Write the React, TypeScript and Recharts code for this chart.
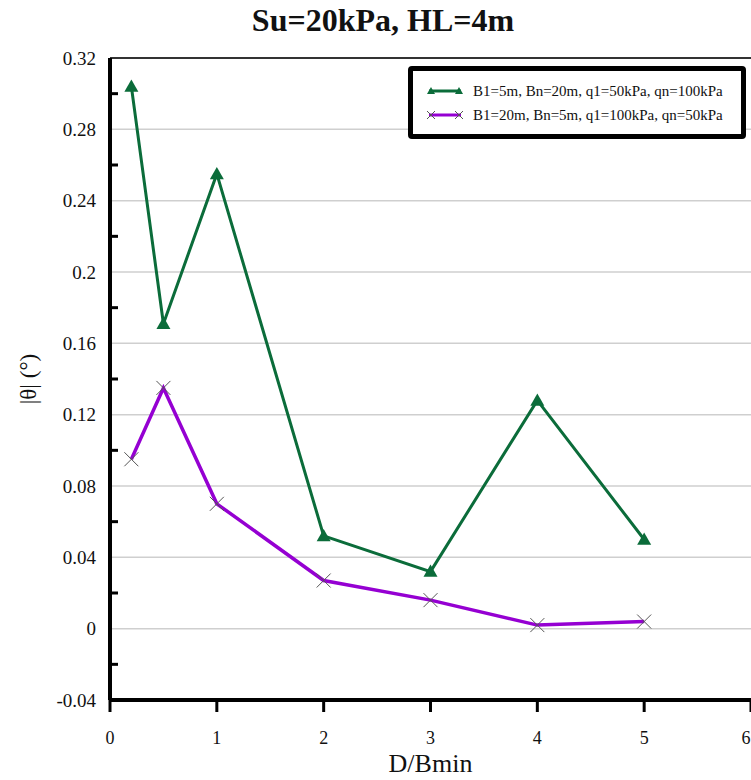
import { LineChart, Line, XAxis, YAxis, CartesianGrid, ReferenceLine, Legend } from "recharts"

const dRatio = [0.2, 0.5, 1, 2, 3, 4, 5]
const caseA = [0.304, 0.171, 0.255, 0.052, 0.032, 0.128, 0.05]
const caseB = [0.095, 0.135, 0.07, 0.027, 0.016, 0.002, 0.004]
const xTicks = [0, 1, 2, 3, 4, 5, 6]
const yTicks = [-0.04, -0.02, 0, 0.02, 0.04, 0.06, 0.08, 0.1, 0.12, 0.14, 0.16, 0.18, 0.2, 0.22, 0.24, 0.26, 0.28, 0.3, 0.32]
const gridValues = [0, 0.04, 0.08, 0.12, 0.16, 0.2, 0.24, 0.28]
const labelA = "B1=5m, Bn=20m, q1=50kPa, qn=100kPa"
const labelB = "B1=20m, Bn=5m, q1=100kPa, qn=50kPa"

const rows = dRatio.map((d, i) => ({ d, a: caseA[i], b: caseB[i] }))

const FONT = "'Liberation Serif', 'DejaVu Serif', serif"
const GREEN = "#0B6C3A"
const PURPLE = "#9500D2"

function Triangle({ cx, cy, s = 7 }: any) {
  if (cx == null || cy == null) return null
  return <path d={`M${cx},${cy - s} L${cx + s},${cy + s * 0.75} L${cx - s},${cy + s * 0.75} Z`} fill={GREEN} />
}

function Cross({ cx, cy, s = 7 }: any) {
  if (cx == null || cy == null) return null
  return (
    <g stroke="#555" strokeWidth={1}>
      <line x1={cx - s} y1={cy - s} x2={cx + s} y2={cy + s} />
      <line x1={cx - s} y1={cy + s} x2={cx + s} y2={cy - s} />
    </g>
  )
}

function YTick({ x, y, payload }: any) {
  const v = payload.value
  const major = Math.round(v * 50) % 2 === 0
  if (!major) {
    return <line x1={x + 14} y1={y} x2={x + 22} y2={y} stroke="#000" strokeWidth={3} />
  }
  return (
    <text x={x} y={y} dy="0.35em" textAnchor="end" fontSize={19} fontFamily={FONT} fill="#111">
      {String(v)}
    </text>
  )
}

function XTick({ x, y, payload }: any) {
  // last label sits on the window edge, nudge it in so it stays readable
  const shift = payload.value === 6 ? -5 : 0
  return (
    <text x={x + shift} y={y} dy="0.71em" textAnchor="middle" fontSize={18} fontFamily={FONT} fill="#111">
      {payload.value}
    </text>
  )
}

function LegendBox() {
  return (
    <div style={{
      border: "5px solid #000", borderRadius: 4, background: "#fff", padding: "8px 10px 7px 12px",
      fontFamily: FONT, fontSize: 15, color: "#111", boxSizing: "border-box", width: 338,
    }}>
      {[{ label: labelA, color: GREEN, kind: "tri" }, { label: labelB, color: PURPLE, kind: "x" }].map((e) => (
        <div key={e.label} style={{ display: "flex", alignItems: "center", height: 24 }}>
          <svg width={40} height={14} style={{ marginRight: 8 }}>
            <line x1={4} y1={7} x2={36} y2={7} stroke={e.color} strokeWidth={3} />
            {e.kind === "tri" ? (
              <>
                <Triangle cx={6} cy={7} s={4} />
                <Triangle cx={34} cy={7} s={4} />
              </>
            ) : (
              <>
                <Cross cx={6} cy={7} s={4} />
                <Cross cx={34} cy={7} s={4} />
              </>
            )}
          </svg>
          <span>{e.label}</span>
        </div>
      ))}
    </div>
  )
}

export default function App() {
  return (
    <div style={{ position: "relative", width: 751, height: 780, background: "#fff" }}>
      <style>{"body{margin:0;overflow:hidden}"}</style>
      <div style={{
        position: "absolute", top: 2, left: 0, width: 766, textAlign: "center",
        fontFamily: FONT, fontWeight: "bold", fontSize: 32, color: "#111",
      }}>
        Su=20kPa, HL=4m
      </div>
      <LineChart width={751} height={780} data={rows} margin={{ top: 58, right: 0, bottom: 20, left: 0 }}>
        <CartesianGrid vertical={false} horizontalValues={gridValues} stroke="#cfcfcf" strokeWidth={1.5} />
        <ReferenceLine y={0.32} stroke="#333" strokeWidth={2} />
        <XAxis
          dataKey="d" type="number" domain={[0, 6]} ticks={xTicks} interval={0} height={60}
          axisLine={{ stroke: "#000", strokeWidth: 4 }} tickLine={{ stroke: "#000", strokeWidth: 3 }}
          tickSize={12} tickMargin={19}
          tick={<XTick />}
          label={{
            content: ({ viewBox }: any) => (
              <text x={viewBox.x + viewBox.width / 2} y={viewBox.y + 72} textAnchor="middle"
                fontSize={26} fontFamily={FONT} fill="#111">D/Bmin</text>
            ),
          }}
        />
        <YAxis
          type="number" domain={[-0.04, 0.32]} ticks={yTicks} interval={0} width={110} allowDataOverflow
          axisLine={{ stroke: "#000", strokeWidth: 4 }} tickLine={false} tickSize={0} tickMargin={14}
          tick={<YTick />}
          label={{
            content: ({ viewBox }: any) => {
              const cx = viewBox.x + 36
              const cy = viewBox.y + viewBox.height / 2
              return (
                <text x={cx} y={cy} transform={`rotate(-90 ${cx} ${cy})`} textAnchor="middle"
                  fontSize={23} fontFamily={FONT} fill="#111">|θ| (°)</text>
              )
            },
          }}
        />
        <Legend
          layout="vertical" verticalAlign="middle" align="center"
          wrapperStyle={{ top: 66, left: 408, width: 338 }}
          content={() => <LegendBox />}
        />
        <Line dataKey="a" name={labelA} stroke={GREEN} strokeWidth={3} dot={<Triangle />} activeDot={false} isAnimationActive={false} />
        <Line dataKey="b" name={labelB} stroke={PURPLE} strokeWidth={3.5} dot={<Cross />} activeDot={false} isAnimationActive={false} />
      </LineChart>
    </div>
  )
}
